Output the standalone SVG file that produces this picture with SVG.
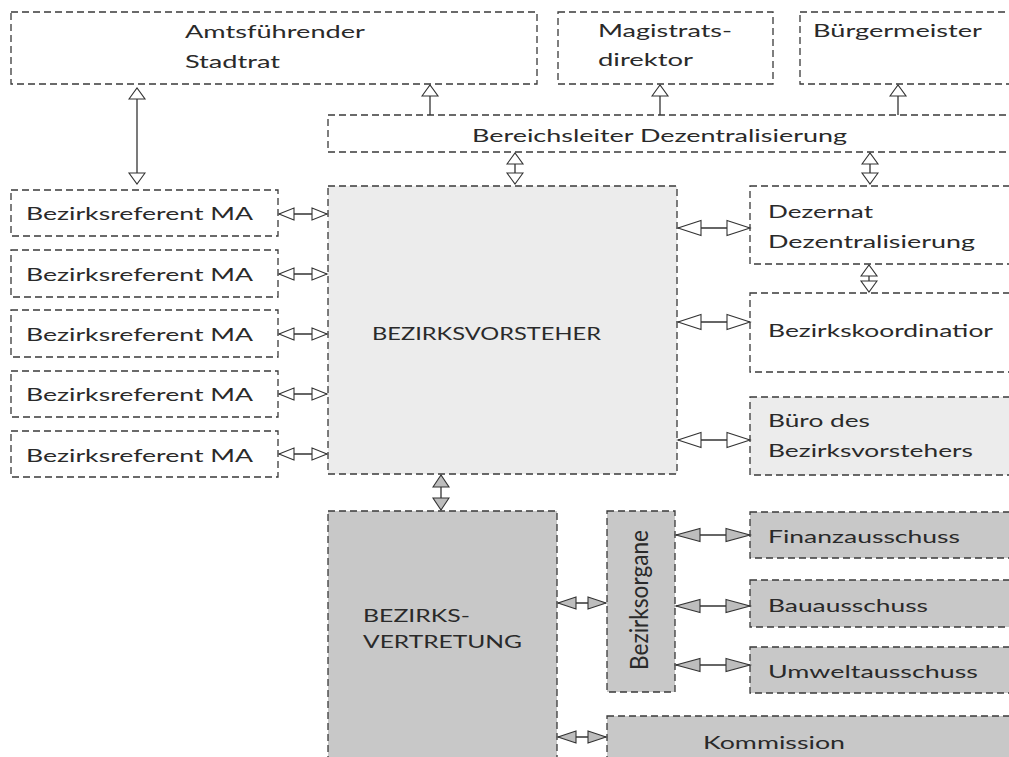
<svg xmlns="http://www.w3.org/2000/svg" width="1009" height="757" viewBox="0 0 1009 757">
  <style>
    .box { stroke: #3a3a3a; stroke-width: 1.3; stroke-dasharray: 7 4; }
    .white { fill: #ffffff; }
    .light { fill: #ececec; }
    .mid { fill: #c8c8c8; }
    .lbl { font-family: Lato, "Liberation Sans", sans-serif; font-size: 18px; fill: #2a2a2a; }
    .conn line { stroke: #333333; stroke-width: 1.3; }
    .open { fill: #ffffff; stroke: #333333; stroke-width: 1.1; }
    .grey { fill: #bdbdbd; stroke: #333333; stroke-width: 1.1; }
  </style>
  <defs>
    <!-- open arrowheads -->
    <marker id="oS" viewBox="0 0 15 12" refX="15" refY="6" markerWidth="15" markerHeight="12" markerUnits="userSpaceOnUse" orient="auto-start-reverse" style="overflow:visible">
      <path class="open" d="M0,0 L15,6 L0,12 Z"/>
    </marker>
    <marker id="oL" viewBox="0 0 23 15" refX="23" refY="7.5" markerWidth="23" markerHeight="15" markerUnits="userSpaceOnUse" orient="auto-start-reverse" style="overflow:visible">
      <path class="open" d="M0,0 L23,7.5 L0,15 Z"/>
    </marker>
    <marker id="oV" viewBox="0 0 11 16" refX="11" refY="8" markerWidth="11" markerHeight="16" markerUnits="userSpaceOnUse" orient="auto-start-reverse" style="overflow:visible">
      <path class="open" d="M0,0 L11,8 L0,16 Z"/>
    </marker>
    <!-- grey filled arrowheads -->
    <marker id="gS" viewBox="0 0 18 12" refX="18" refY="6" markerWidth="18" markerHeight="12" markerUnits="userSpaceOnUse" orient="auto-start-reverse" style="overflow:visible">
      <path class="grey" d="M0,0 L18,6 L0,12 Z"/>
    </marker>
    <marker id="gL" viewBox="0 0 24 13" refX="24" refY="6.5" markerWidth="24" markerHeight="13" markerUnits="userSpaceOnUse" orient="auto-start-reverse" style="overflow:visible">
      <path class="grey" d="M0,0 L24,6.5 L0,13 Z"/>
    </marker>
    <marker id="gV" viewBox="0 0 12 16" refX="12" refY="8" markerWidth="12" markerHeight="16" markerUnits="userSpaceOnUse" orient="auto-start-reverse" style="overflow:visible">
      <path class="grey" d="M0,0 L12,8 L0,16 Z"/>
    </marker>
  </defs>

  <rect width="1009" height="757" fill="#ffffff"/>

  <!-- top row -->
  <g id="stadtrat">
    <rect class="box white" x="11" y="12" width="526" height="72"/>
    <text class="lbl" x="185" y="38" textLength="180" lengthAdjust="spacingAndGlyphs">Amtsführender</text>
    <text class="lbl" x="185" y="68" textLength="95" lengthAdjust="spacingAndGlyphs">Stadtrat</text>
  </g>
  <g id="magistratsdirektor">
    <rect class="box white" x="558" y="12" width="215" height="72"/>
    <text class="lbl" x="598" y="37" textLength="134" lengthAdjust="spacingAndGlyphs">Magistrats-</text>
    <text class="lbl" x="598" y="66" textLength="95" lengthAdjust="spacingAndGlyphs">direktor</text>
  </g>
  <g id="buergermeister">
    <rect class="box white" x="800" y="12" width="230" height="72"/>
    <text class="lbl" x="813" y="37" textLength="169" lengthAdjust="spacingAndGlyphs">Bürgermeister</text>
  </g>
  <g id="bereichsleiter">
    <rect class="box white" x="328" y="115" width="700" height="37"/>
    <text class="lbl" x="472" y="142" textLength="375" lengthAdjust="spacingAndGlyphs">Bereichsleiter Dezentralisierung</text>
  </g>

  <!-- district officers -->
  <g id="referent1">
    <rect class="box white" x="11" y="190" width="267" height="46"/>
    <text class="lbl" x="26" y="220" textLength="227" lengthAdjust="spacingAndGlyphs">Bezirksreferent MA</text>
  </g>
  <g id="referent2">
    <rect class="box white" x="11" y="250" width="267" height="47"/>
    <text class="lbl" x="26" y="281" textLength="227" lengthAdjust="spacingAndGlyphs">Bezirksreferent MA</text>
  </g>
  <g id="referent3">
    <rect class="box white" x="11" y="310" width="267" height="47"/>
    <text class="lbl" x="26" y="341" textLength="227" lengthAdjust="spacingAndGlyphs">Bezirksreferent MA</text>
  </g>
  <g id="referent4">
    <rect class="box white" x="11" y="371" width="267" height="46"/>
    <text class="lbl" x="26" y="401" textLength="227" lengthAdjust="spacingAndGlyphs">Bezirksreferent MA</text>
  </g>
  <g id="referent5">
    <rect class="box white" x="11" y="431" width="267" height="46"/>
    <text class="lbl" x="26" y="462" textLength="227" lengthAdjust="spacingAndGlyphs">Bezirksreferent MA</text>
  </g>

  <!-- district head -->
  <g id="bezirksvorsteher">
    <rect class="box light" x="328" y="186" width="349" height="288"/>
    <text class="lbl" x="372" y="340" textLength="229" lengthAdjust="spacingAndGlyphs">BEZIRKSVORSTEHER</text>
  </g>

  <!-- right column -->
  <g id="dezernat">
    <rect class="box white" x="750" y="186" width="280" height="78"/>
    <text class="lbl" x="768" y="218" textLength="105" lengthAdjust="spacingAndGlyphs">Dezernat</text>
    <text class="lbl" x="768" y="248" textLength="207" lengthAdjust="spacingAndGlyphs">Dezentralisierung</text>
  </g>
  <g id="koordinator">
    <rect class="box white" x="750" y="293" width="280" height="79"/>
    <text class="lbl" x="768" y="337" textLength="225" lengthAdjust="spacingAndGlyphs">Bezirkskoordinatior</text>
  </g>
  <g id="buero">
    <rect class="box light" x="750" y="397" width="280" height="78"/>
    <text class="lbl" x="768" y="427" textLength="102" lengthAdjust="spacingAndGlyphs">Büro des</text>
    <text class="lbl" x="768" y="457" textLength="205" lengthAdjust="spacingAndGlyphs">Bezirksvorstehers</text>
  </g>

  <!-- district council -->
  <g id="bezirksvertretung">
    <rect class="box mid" x="328" y="511" width="229" height="260"/>
    <text class="lbl" x="363" y="622" textLength="107" lengthAdjust="spacingAndGlyphs">BEZIRKS-</text>
    <text class="lbl" x="363" y="648" textLength="159" lengthAdjust="spacingAndGlyphs">VERTRETUNG</text>
  </g>
  <g id="bezirksorgane">
    <rect class="box mid" x="607" y="511" width="68" height="181"/>
    <text class="lbl" transform="translate(648,670) scale(1.35,1) rotate(-90)" font-size="18" textLength="140" lengthAdjust="spacingAndGlyphs">Bezirksorgane</text>
  </g>
  <g id="finanzausschuss">
    <rect class="box mid" x="750" y="512" width="280" height="46"/>
    <text class="lbl" x="768" y="543" textLength="192" lengthAdjust="spacingAndGlyphs">Finanzausschuss</text>
  </g>
  <g id="bauausschuss">
    <rect class="box mid" x="750" y="580" width="280" height="47"/>
    <text class="lbl" x="768" y="612" textLength="160" lengthAdjust="spacingAndGlyphs">Bauausschuss</text>
  </g>
  <g id="umweltausschuss">
    <rect class="box mid" x="750" y="647" width="280" height="46"/>
    <text class="lbl" x="768" y="678" textLength="210" lengthAdjust="spacingAndGlyphs">Umweltausschuss</text>
  </g>
  <g id="kommission">
    <rect class="box mid" x="607" y="716" width="420" height="60"/>
    <text class="lbl" x="703" y="749" textLength="142" lengthAdjust="spacingAndGlyphs">Kommission</text>
  </g>

  <!-- connectors -->
  <g id="connectors" class="conn">
    <line x1="137" y1="88" x2="137" y2="184" marker-start="url(#oV)" marker-end="url(#oV)"/>
    <line x1="430" y1="115" x2="430" y2="85" marker-end="url(#oV)"/>
    <line x1="660" y1="115" x2="660" y2="85" marker-end="url(#oV)"/>
    <line x1="898" y1="115" x2="898" y2="85" marker-end="url(#oV)"/>
    <line x1="515" y1="153" x2="515" y2="184" marker-start="url(#oV)" marker-end="url(#oV)"/>
    <line x1="870" y1="153" x2="870" y2="184" marker-start="url(#oV)" marker-end="url(#oV)"/>
    <line x1="869" y1="265" x2="869" y2="292" marker-start="url(#oV)" marker-end="url(#oV)"/>

    <line x1="279" y1="214" x2="327" y2="214" marker-start="url(#oS)" marker-end="url(#oS)"/>
    <line x1="279" y1="274" x2="327" y2="274" marker-start="url(#oS)" marker-end="url(#oS)"/>
    <line x1="279" y1="334" x2="327" y2="334" marker-start="url(#oS)" marker-end="url(#oS)"/>
    <line x1="279" y1="394" x2="327" y2="394" marker-start="url(#oS)" marker-end="url(#oS)"/>
    <line x1="279" y1="454" x2="327" y2="454" marker-start="url(#oS)" marker-end="url(#oS)"/>

    <line x1="678" y1="228" x2="750" y2="228" marker-start="url(#oL)" marker-end="url(#oL)"/>
    <line x1="678" y1="322" x2="750" y2="322" marker-start="url(#oL)" marker-end="url(#oL)"/>
    <line x1="678" y1="440" x2="750" y2="440" marker-start="url(#oL)" marker-end="url(#oL)"/>

    <line x1="441" y1="475" x2="441" y2="510" marker-start="url(#gV)" marker-end="url(#gV)"/>
    <line x1="558" y1="603" x2="606" y2="603" marker-start="url(#gS)" marker-end="url(#gS)"/>
    <line x1="558" y1="737" x2="606" y2="737" marker-start="url(#gS)" marker-end="url(#gS)"/>

    <line x1="676" y1="535" x2="750" y2="535" marker-start="url(#gL)" marker-end="url(#gL)"/>
    <line x1="676" y1="606" x2="750" y2="606" marker-start="url(#gL)" marker-end="url(#gL)"/>
    <line x1="676" y1="665" x2="750" y2="665" marker-start="url(#gL)" marker-end="url(#gL)"/>
  </g>
</svg>
